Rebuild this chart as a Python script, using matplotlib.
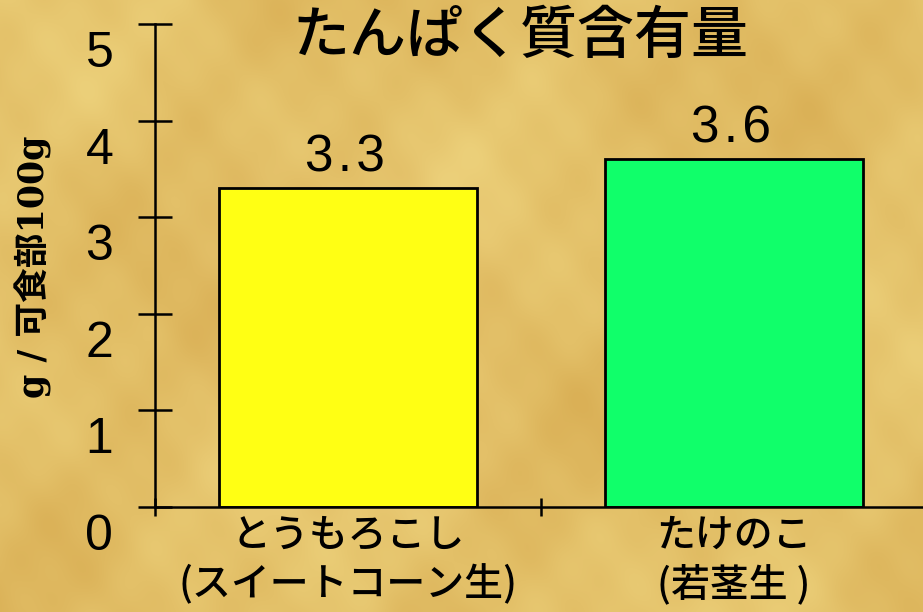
import numpy as np
import matplotlib.pyplot as plt
from matplotlib.transforms import ScaledTranslation

categories = ['とうもろこし\n(スイートコーン生)', 'たけのこ\n(若茎生 )']
protein = [3.3, 3.6]
bar_colors = ['#ffff14', '#10ff6a']
yticks = [0, 1, 2, 3, 4, 5]

W, H = 923, 612
fig = plt.figure(figsize=(W / 100, H / 100), dpi=100)

# parchment style background made from a few overlapping waves
yy, xx = np.mgrid[0:H, 0:W] / 100.0
tex = (np.sin(1.3 * xx + 0.7 * yy + 0.4) + 0.8 * np.sin(0.6 * xx - 1.7 * yy + 1.9)
       + 0.6 * np.sin(2.9 * xx + 2.3 * yy + 3.1) + 0.5 * np.sin(4.1 * xx - 3.3 * yy + 0.8)
       + 0.35 * np.sin(7.3 * xx + 5.9 * yy + 2.2) + 0.25 * np.sin(11.0 * xx - 8.5 * yy))
tex = (tex - tex.min()) / (tex.max() - tex.min())
dark = np.array([218, 176, 86]) / 255
light = np.array([236, 208, 122]) / 255
img = dark + (light - dark) * tex[..., None]
bg = fig.add_axes([0, 0, 1, 1], zorder=-10)
bg.imshow(img, aspect='auto', extent=[0, 1, 0, 1])
bg.axis('off')

ax = fig.add_axes([155 / W, 105 / H, (927 - 155) / W, (507 - 24) / H])
ax.patch.set_alpha(0)
x = np.arange(len(categories))
bars = ax.bar(x, protein, width=0.67, color=bar_colors, edgecolor='black', linewidth=2)

ax.set_xlim(-0.5, 1.5)
ax.set_ylim(0, 5)

for side in ['top', 'right']:
    ax.spines[side].set_visible(False)
for side in ['left', 'bottom']:
    ax.spines[side].set_linewidth(1.8)

ax.set_yticks(yticks)
ax.set_yticklabels([str(v) for v in yticks], fontsize=36, family='Liberation Sans')
ax.tick_params(axis='y', direction='inout', length=24, width=1.8, pad=18)
shift = ScaledTranslation(0, -0.25, fig.dpi_scale_trans)
for lbl in ax.get_yticklabels():
    lbl.set_transform(lbl.get_transform() + shift)

ax.set_xticks(x)
ax.set_xticklabels(categories, fontsize=28, family='Noto Sans CJK JP',
                   fontweight='medium', linespacing=1.3)
ax.set_xticks([-0.5, 0.5, 1.5], minor=True)
ax.tick_params(axis='x', which='major', length=0, pad=6)
ax.tick_params(axis='x', which='minor', direction='inout', length=13, width=1.8)

# value labels, a little spaced out
for xi, v in zip(x, protein):
    ax.annotate(f'{v:.1f}'.replace('.', '\u200a.\u200a'), (xi, v), xytext=(-3, 17),
                textcoords='offset pixels', ha='center', va='baseline', fontsize=37,
                family=['Liberation Sans', 'DejaVu Sans'])

fig.text(520 / W, 1 - 37 / H, 'たんぱく質含有量', ha='center', va='center',
         fontsize=41, fontweight='medium', family='Noto Sans CJK JP')
fig.text(33 / W, 1 - 267 / H, 'g / 可食部100g', rotation=90, ha='center', va='center',
         fontsize=25, fontweight='bold', family=['DejaVu Serif', 'Noto Sans CJK JP'])

fig.savefig('out.png', dpi=100)
